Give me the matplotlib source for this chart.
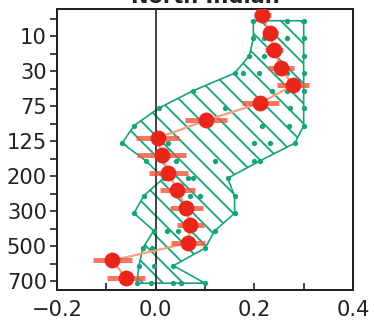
import numpy as np
import matplotlib
matplotlib.use("Agg")
import matplotlib.pyplot as plt
from matplotlib.ticker import MultipleLocator, FuncFormatter

# depth levels (m), shown on a category axis
depths = [0, 10, 20, 30, 50, 75, 100, 125, 150, 200, 250, 300, 400, 500, 600, 700]
ytick_labels = ["10", "30", "75", "125", "200", "300", "500", "700"]

# observed mean trend and its half-range
obs_mean = [0.216, 0.232, 0.240, 0.254, 0.278, 0.212, 0.102, 0.004,
            0.012, 0.026, 0.044, 0.062, 0.070, 0.066, -0.088, -0.060]
obs_err = [0.017, 0.015, 0.018, 0.027, 0.033, 0.038, 0.043, 0.043,
           0.050, 0.040, 0.035, 0.033, 0.027, 0.035, 0.040, 0.038]

# individual model values at each depth level
model_values = [
    [0.198, 0.266, 0.300],
    [0.198, 0.220, 0.266, 0.300],
    [0.190, 0.220, 0.300],
    [0.160, 0.178, 0.210, 0.266, 0.300],
    [0.076, 0.236, 0.266, 0.300],
    [0.006, 0.140, 0.272, 0.300],
    [-0.044, 0.216, 0.270, 0.300],
    [-0.068, 0.026, 0.200, 0.232, 0.282],
    [-0.020, 0.042, 0.120, 0.200, 0.212],
    [0.016, 0.066, 0.076, 0.146],
    [-0.024, 0.070, 0.090, 0.160],
    [-0.044, 0.060, 0.160],
    [-0.004, 0.022, 0.046, 0.120],
    [-0.026, -0.008, 0.100],
    [-0.034, -0.004, 0.036],
    [-0.038, -0.010, 0.036, 0.052, 0.100],
]

GREEN = "#17a37c"
RED = "#e8261c"
DARK = "#222222"
DPI = 120

plt.rcParams["font.family"] = "DejaVu Sans"
plt.rcParams["hatch.color"] = GREEN
plt.rcParams["hatch.linewidth"] = 1.1

fig = plt.figure(figsize=(374 / DPI, 328 / DPI), dpi=DPI)
ax = fig.add_axes([57 / 374, 1 - 290 / 328, 296 / 374, 281 / 328])

levels = np.arange(len(depths))
lo = np.array([min(v) for v in model_values])
hi = np.array([max(v) for v in model_values])

# model envelope, hatched
env_y = levels + 0.1
poly_x = np.concatenate([hi, lo[::-1]])
poly_y = np.concatenate([env_y, env_y[::-1]])
ax.fill(poly_x, poly_y, facecolor="none", edgecolor=GREEN, hatch="\\\\", lw=1.0, zorder=2)

for i, vals in enumerate(model_values):
    ax.plot(vals, [env_y[i]] * len(vals), "o", color=GREEN, ms=3.2, mew=0, zorder=3)

ax.axvline(0, color=DARK, lw=1.0, zorder=2.5)

# observations
obs_y = levels - 0.2
ax.plot(obs_mean, obs_y, "-", color="#f5a07c", lw=1.3, zorder=4)
ax.errorbar(obs_mean, obs_y, xerr=obs_err, fmt="none", ecolor="#f2553a",
            elinewidth=3.0, alpha=0.8, capsize=0, zorder=5)
ax.plot(obs_mean, obs_y, "o", color=RED, ms=9.5, mew=0, zorder=6)

ax.set_xlim(-0.2, 0.4)
ax.set_ylim(15.49, -0.57)

ax.xaxis.set_major_locator(MultipleLocator(0.2))
ax.xaxis.set_minor_locator(MultipleLocator(0.1))
ax.xaxis.set_major_formatter(FuncFormatter(lambda v, p: f"{v:.1f}".replace("-", "\u2212")))

ax.set_yticks(levels)
ax.set_yticklabels([ytick_labels[(i - 1) // 2] if i % 2 == 1 else "" for i in levels])

ax.tick_params(axis="x", which="both", direction="in", length=4, width=1.0,
               labelsize=12.6, pad=6, colors=DARK)
ax.tick_params(axis="y", which="both", direction="out", length=4, width=1.0,
               labelsize=12.6, pad=2, colors=DARK)
for s in ax.spines.values():
    s.set_linewidth(1.2)
    s.set_color(DARK)

# title sits mostly above the picture, as in the original crop
fig.text(205 / 374, 1 - 3 / 328, "North Indian", ha="center", va="baseline",
         fontsize=12.6, fontweight="bold", color=DARK)

fig.savefig("out.png", dpi=DPI)
